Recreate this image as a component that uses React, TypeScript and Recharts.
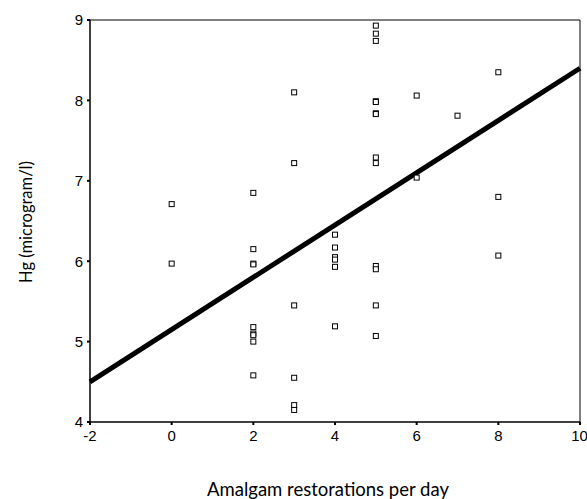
import { Scatter, ScatterChart, XAxis, YAxis, ReferenceLine } from "recharts";

// Amalgam restorations per day (x) vs Hg in microgram/l (y)
const restorations = [
  0, 0,
  2, 2, 2, 2, 2, 2, 2, 2, 2,
  3, 3, 3, 3, 3, 3,
  4, 4, 4, 4, 4, 4,
  5, 5, 5, 5, 5, 5, 5, 5, 5, 5, 5, 5, 5,
  6, 6,
  7,
  8, 8, 8,
];
const hg = [
  6.71, 5.97,
  6.85, 6.15, 5.97, 5.96, 5.18, 5.1, 5.08, 5.0, 4.58,
  8.1, 7.22, 5.45, 4.55, 4.21, 4.15,
  6.33, 6.17, 6.05, 6.02, 5.93, 5.19,
  8.93, 8.83, 8.74, 7.99, 7.98, 7.84, 7.83, 7.29, 7.22, 5.94, 5.9, 5.45, 5.07,
  8.06, 7.04,
  7.81,
  8.35, 6.8, 6.07,
];

// fitted regression line end points
const fitX = [-2, 10];
const fitY = [4.5, 8.4];

const xTicks = [-2, 0, 2, 4, 6, 8, 10];
const yTicks = [4, 5, 6, 7, 8, 9];

const points = restorations.map((x, i) => ({ x, y: hg[i] }));
const fitLine = fitX.map((x, i) => ({ x, y: fitY[i] }));

function SquareDot(props: { cx?: number; cy?: number }) {
  if (props.cx == null || props.cy == null) return <g />;
  return <rect x={props.cx - 2.5} y={props.cy - 2.5} width={5} height={5} fill="#fff" stroke="#000" strokeWidth={1} />;
}

const tickStyle = { fill: "#000", fontSize: 15, fontFamily: "Liberation Sans, Arial, sans-serif" };

export default function App() {
  return (
    <div style={{ position: "absolute", left: 0, top: 0, width: 587, height: 499, background: "#fff" }}>
      <ScatterChart width={587} height={499} margin={{ top: 20, right: 7, bottom: 57, left: 60 }}>
        <XAxis
          type="number"
          dataKey="x"
          domain={[-2, 10]}
          ticks={xTicks}
          tickSize={3}
          tickMargin={5}
          tick={tickStyle}
          axisLine={{ stroke: "#000", strokeWidth: 1.5 }}
          tickLine={{ stroke: "#000", strokeWidth: 2 }}
          height={20}
        />
        <YAxis
          type="number"
          dataKey="y"
          domain={[4, 9]}
          ticks={yTicks}
          tickSize={3}
          tickMargin={4}
          tick={tickStyle}
          axisLine={{ stroke: "#000", strokeWidth: 1.5 }}
          tickLine={{ stroke: "#000", strokeWidth: 2 }}
          width={30}
        />
        <ReferenceLine y={9} stroke="#000" strokeWidth={1} />
        <ReferenceLine x={10} stroke="#000" strokeWidth={1} />
        <Scatter data={fitLine} line={{ stroke: "#000", strokeWidth: 5 }} shape={() => <g />} isAnimationActive={false} />
        <Scatter data={points} shape={SquareDot} isAnimationActive={false} />
        <text x={26} y={222} transform="rotate(-90 26 222)" textAnchor="middle" dominantBaseline="central" fontSize={16.5} fontFamily="Lato, Open Sans, sans-serif" fill="#000">
          Hg (microgram/l)
        </text>
        <text x={328} y={489} textAnchor="middle" dominantBaseline="central" fontSize={18.5} fontFamily="Lato, Open Sans, sans-serif" fill="#000">
          Amalgam restorations per day
        </text>
      </ScatterChart>
    </div>
  );
}
